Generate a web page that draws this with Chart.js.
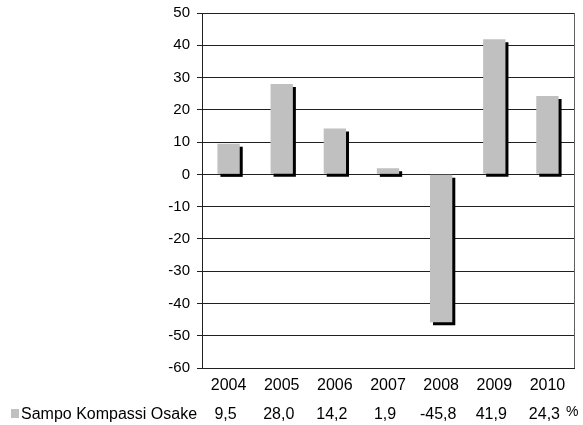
<!DOCTYPE html>
<html>
<head>
<meta charset="utf-8">
<script src="https://cdn.jsdelivr.net/npm/chart.js@4"></script>
<style>
  html, body { margin: 0; padding: 0; background: #ffffff; }
  #wrap { width: 583px; height: 425px; }
</style>
</head>
<body>
<div id="wrap"><canvas id="chart" width="583" height="425"></canvas></div>
<script>
const years = ["2004", "2005", "2006", "2007", "2008", "2009", "2010"]
const returns = [9.5, 28.0, 14.2, 1.9, -45.8, 41.9, 24.3]
const seriesName = "Sampo Kompassi Osake"
const yMin = -60
const yMax = 50
const yStep = 10

const FONT = "'Liberation Sans', Arial, sans-serif"
const BAR_GREY = "#c0c0c0"

// Musta varjo pylväiden alle, piirretään canvasin omalla shadow-asetuksella
const shadowPlugin = {
  id: "barShadow",
  beforeDatasetsDraw: (chart) => {
    const { ctx } = chart
    ctx.save()
    ctx.shadowColor = "#000000"
    ctx.shadowOffsetX = 3
    ctx.shadowOffsetY = 3
    ctx.shadowBlur = 0
  },
  afterDatasetsDraw: (chart) => {
    chart.ctx.restore()
  }
}

// Kehyksen oikea reuna ja taulukkorivi x-akselin alle
const tablePlugin = {
  id: "dataTable",
  afterDraw: (chart) => {
    const { ctx, chartArea } = chart
    const xScale = chart.scales.x
    ctx.save()
    ctx.strokeStyle = "#606060"
    ctx.lineWidth = 1
    ctx.beginPath()
    ctx.moveTo(chartArea.right + 0.5, chartArea.top)
    ctx.lineTo(chartArea.right + 0.5, chartArea.bottom)
    ctx.stroke()

    const rowY = 415
    ctx.fillStyle = BAR_GREY
    ctx.fillRect(11, 409, 8, 9)

    ctx.fillStyle = "#000000"
    ctx.textBaseline = "middle"
    ctx.font = `16px ${FONT}`
    ctx.textAlign = "left"
    ctx.fillText(seriesName, 21, rowY)

    ctx.textAlign = "center"
    returns.forEach((value, index) => {
      const x = xScale.getPixelForValue(index)
      ctx.fillText(value.toFixed(1).replace(".", ","), x - 3, rowY)
    })

    ctx.font = `14px ${FONT}`
    ctx.textAlign = "left"
    ctx.fillText("%", 566, rowY - 3)
    ctx.restore()
  }
}

new Chart(document.getElementById("chart"), {
  type: "bar",
  data: {
    labels: years,
    datasets: [ {
      label: seriesName,
      data: returns,
      backgroundColor: BAR_GREY,
      borderWidth: 0,
      categoryPercentage: 1,
      barPercentage: 0.42
    } ]
  },
  options: {
    responsive: false,
    animation: false,
    layout: { padding: { top: 13, right: 9, left: 0, bottom: 0 } },
    plugins: {
      legend: { display: false },
      tooltip: { enabled: false }
    },
    scales: {
      x: {
        grid: { display: false, drawTicks: false },
        border: { display: true, color: "#202020", width: 1 },
        ticks: {
          color: "#000000",
          font: { family: FONT, size: 16 },
          padding: 8,
          maxRotation: 0
        },
        afterFit: (scale) => { scale.height = 57 }
      },
      y: {
        min: yMin,
        max: yMax,
        grid: { color: "#202020", lineWidth: 1, tickLength: 5 },
        border: { display: true, color: "#202020", width: 1 },
        ticks: {
          stepSize: yStep,
          color: "#000000",
          font: { family: FONT, size: 15 },
          padding: 7
        },
        afterFit: (scale) => { scale.width = 202; scale.paddingTop = 0 }
      }
    }
  },
  plugins: [ shadowPlugin, tablePlugin ]
})
</script>
</body>
</html>
